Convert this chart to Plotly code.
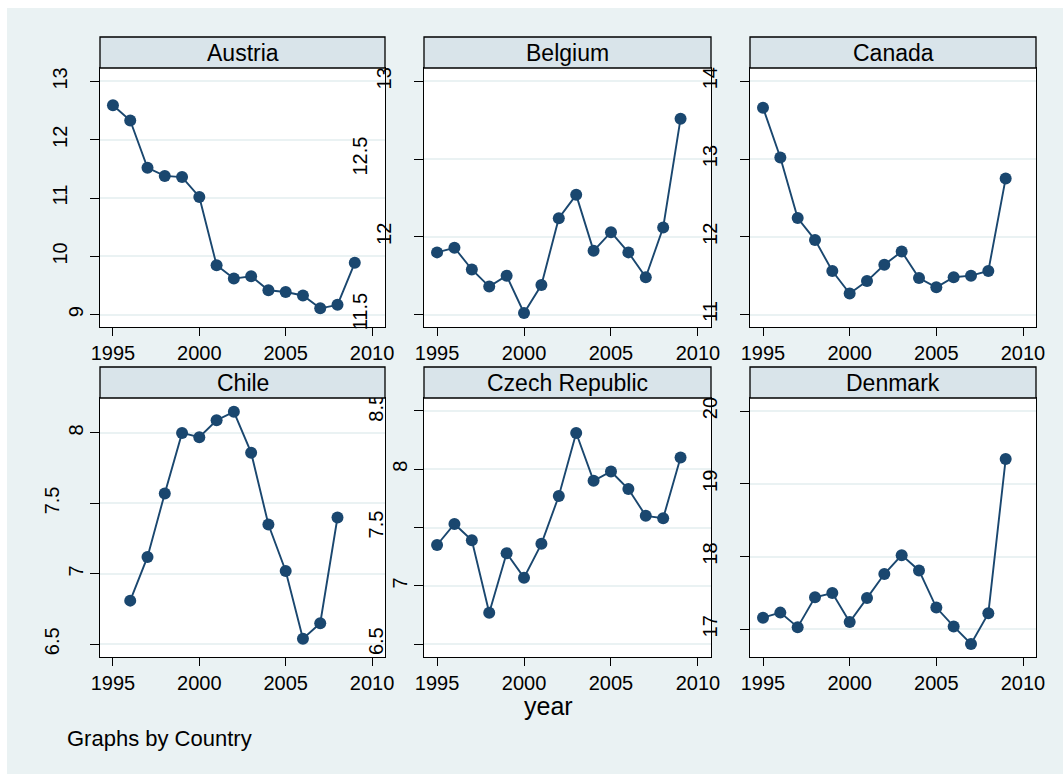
import plotly.graph_objects as go

W, H = 1063, 774
FONT = "Liberation Sans, Arial, sans-serif"

years = list(range(1995, 2010))
austria = [12.59, 12.33, 11.52, 11.38, 11.36, 11.02, 9.85, 9.62, 9.66, 9.42, 9.39, 9.33, 9.11, 9.17, 9.89]
belgium = [11.90, 11.93, 11.79, 11.68, 11.75, 11.51, 11.69, 12.12, 12.27, 11.91, 12.03, 11.90, 11.74, 12.06, 12.76]
canada = [13.66, 13.02, 12.24, 11.96, 11.56, 11.27, 11.43, 11.64, 11.81, 11.47, 11.35, 11.48, 11.50, 11.56, 12.75]
chile = [None, 6.81, 7.12, 7.57, 8.00, 7.97, 8.09, 8.15, 7.86, 7.35, 7.02, 6.54, 6.65, 7.40, None]
czech = [7.35, 7.53, 7.39, 6.77, 7.28, 7.07, 7.36, 7.77, 8.31, 7.90, 7.98, 7.83, 7.60, 7.58, 8.10]
denmark = [17.16, 17.23, 17.03, 17.44, 17.50, 17.10, 17.43, 17.76, 18.02, 17.81, 17.30, 17.04, 16.80, 17.22, 19.34]

countries = ["Austria", "Belgium", "Canada", "Chile", "Czech Republic", "Denmark"]
series = [austria, belgium, canada, chile, czech, denmark]
xticks = [1995, 2000, 2005, 2010]
yticks = [
    [9, 10, 11, 12, 13],
    [11.5, 12, 12.5, 13],
    [11, 12, 13, 14],
    [6.5, 7, 7.5, 8],
    [6.5, 7, 7.5, 8, 8.5],
    [17, 18, 19, 20],
]
yranges = [
    [8.79, 13.23],
    [11.42, 13.086],
    [10.84, 14.17],
    [6.41, 8.248],
    [6.39, 8.61],
    [16.62, 20.18],
]

NAVY = "#1a476f"
BG = "#eaf2f3"
STRIP = "#d9e4ea"

# panel boxes in pixels
cols = [(100, 385), (424, 711), (750, 1036)]
rows = [(68, 327), (398, 657)]
STRIP_H = 31


def fx(px):
    return px / W


def fy(py):
    return 1 - py / H


def lab(v):
    return ("%g" % v)


def label_offset(text):
    # stata pushes rotated labels further out the longer they are
    w = sum(0.278 if c == "." else 0.556 for c in text) * 20
    return int(round(1.45 * w - 4))


fig = go.Figure()
layout = dict(
    template="none",
    width=W, height=H, autosize=False,
    margin=dict(l=0, r=0, t=0, b=0, pad=0),
    paper_bgcolor=BG, plot_bgcolor="white",
    showlegend=False,
    font=dict(family=FONT, color="black", size=20),
    shapes=[
        # white rim on the left and top of the picture
        dict(type="rect", xref="paper", yref="paper", x0=0, x1=fx(7), y0=0, y1=1,
             fillcolor="white", line=dict(width=0), layer="below"),
        dict(type="rect", xref="paper", yref="paper", x0=0, x1=1, y0=fy(8), y1=1,
             fillcolor="white", line=dict(width=0), layer="below"),
    ],
    annotations=[],
)

extra = 7
for i, name in enumerate(countries):
    n = i + 1
    c0, c1 = cols[i % 3]
    r0, r1 = rows[i // 3]
    fig.add_trace(go.Scatter(
        x=years, y=series[i], mode="lines+markers",
        line=dict(color=NAVY, width=1.9),
        marker=dict(color=NAVY, size=12),
        xaxis=f"x{n}", yaxis=f"y{n}",
    ))
    layout[f"xaxis{n}"] = dict(
        domain=[fx(c0), fx(c1)], anchor=f"y{n}", range=[1994.25, 2010.75],
        tickvals=xticks, ticks="outside", ticklen=8, tickcolor="black", tickwidth=1.2,
        showline=True, linecolor="black", linewidth=1.3, mirror=True,
        showgrid=False, zeroline=False, tickfont=dict(size=20), automargin=False,
    )
    layout[f"yaxis{n}"] = dict(
        domain=[fy(r1), fy(r0)], anchor=f"x{n}", range=yranges[i],
        tickvals=yticks[i], showticklabels=False,
        ticks="outside", ticklen=9, tickcolor="black", tickwidth=1.2,
        showline=True, linecolor="black", linewidth=1.3, mirror=True,
        showgrid=True, gridcolor=BG, gridwidth=1.6, zeroline=False, automargin=False,
    )
    # label groups on overlay axes
    groups = {}
    for v in yticks[i]:
        groups.setdefault(label_offset(lab(v)), []).append(v)
    for off, vals in groups.items():
        fig.add_trace(go.Scatter(x=[None], y=[None], xaxis=f"x{n}", yaxis=f"y{extra}",
                                 hoverinfo="skip", showlegend=False))
        layout[f"yaxis{extra}"] = dict(
            overlaying=f"y{n}", anchor=f"x{n}", side="left", range=yranges[i],
            tickvals=vals, ticktext=[lab(v) for v in vals], tickangle=-90,
            ticks="", showline=False, showgrid=False, zeroline=False,
            ticklabelstandoff=off, tickfont=dict(size=20), automargin=False,
        )
        extra += 1
    layout["shapes"].append(dict(
        type="rect", xref="paper", yref="paper",
        x0=fx(c0), x1=fx(c1), y0=fy(r0), y1=fy(r0 - STRIP_H),
        fillcolor=STRIP, line=dict(color="black", width=1.3),
    ))
    layout["annotations"].append(dict(
        text=name, xref="paper", yref="paper", x=fx((c0 + c1) / 2), y=fy(r0 - STRIP_H / 2),
        showarrow=False, font=dict(size=23), xanchor="center", yanchor="middle",
    ))

layout["annotations"].append(dict(
    text="year", xref="paper", yref="paper", x=fx(548), y=fy(706),
    showarrow=False, font=dict(size=25), xanchor="center", yanchor="middle",
))
layout["annotations"].append(dict(
    text="Graphs by Country", xref="paper", yref="paper", x=fx(65), y=fy(738),
    showarrow=False, font=dict(size=22), xanchor="left", yanchor="middle",
))

fig.update_layout(**layout)
fig.write_html("out.html", config={"displayModeBar": False},
               post_script="document.body.style.margin = '0';")
